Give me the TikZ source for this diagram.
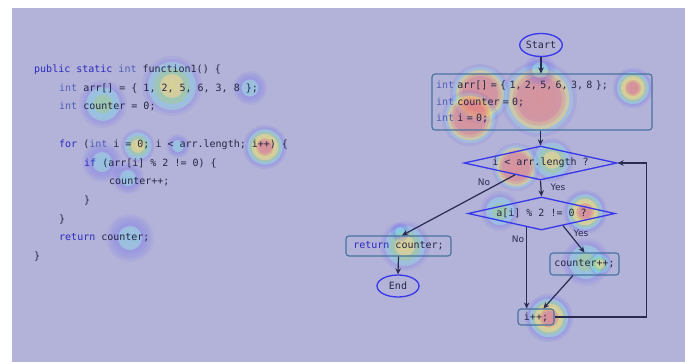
\documentclass[tikz,border=0pt]{standalone}
\usepackage{fontspec}
\newfontfamily\codefont{DejaVu Sans Mono}
\newfontfamily\labfont{DejaVu Sans}
\usetikzlibrary{shapes.geometric,arrows.meta,calc}

\definecolor{bgcol}{RGB}{179,178,216}
\definecolor{kwcol}{RGB}{42,42,190}
\definecolor{intcol}{RGB}{80,96,185}
\definecolor{idcol}{RGB}{38,38,68}
\definecolor{boxcol}{RGB}{70,115,160}
\definecolor{diacol}{RGB}{55,55,235}
\definecolor{arrcol}{RGB}{40,42,82}

\definecolor{hRed}{RGB}{240,125,115}
\definecolor{hOrg}{RGB}{250,170,90}
\definecolor{hYel}{RGB}{250,240,90}
\definecolor{hGrn}{RGB}{130,230,130}
\definecolor{hCyn}{RGB}{100,225,245}
\definecolor{hBlu}{RGB}{80,80,255}

% ring lists: index/colour/opacity, outside -> inside
\def\ringsRR{0/hBlu/0.10,1/hCyn/0.20,2/hYel/0.34,3/hOrg/0.44,4/hRed/0.50,5/hRed/0.52,6/hRed/0.54,7/hRed/0.55,8/hRed/0.56,9/hRed/0.57}
\def\ringsR{0/hBlu/0.10,1/hBlu/0.20,2/hCyn/0.28,3/hGrn/0.36,4/hYel/0.44,5/hYel/0.50,6/hOrg/0.54,7/hRed/0.56,8/hRed/0.58,9/hRed/0.60}
\def\ringsY{0/hBlu/0.08,1/hBlu/0.16,2/hCyn/0.24,3/hCyn/0.30,4/hGrn/0.36,5/hGrn/0.40,6/hYel/0.44,7/hYel/0.46,8/hYel/0.48,9/hYel/0.50}
\def\ringsG{0/hBlu/0.07,1/hBlu/0.14,2/hBlu/0.20,3/hCyn/0.26,4/hCyn/0.30,5/hCyn/0.34,6/hGrn/0.38,7/hGrn/0.40,8/hGrn/0.42,9/hGrn/0.44}
\def\ringsB{0/hBlu/0.06,1/hBlu/0.12,2/hBlu/0.17,3/hBlu/0.21,4/hBlu/0.24,5/hCyn/0.26,6/hCyn/0.28,7/hCyn/0.30,8/hCyn/0.31,9/hCyn/0.32}

\newcommand\ckw[1]{\textcolor{kwcol}{#1}}
\newcommand\cint[1]{\textcolor{intcol}{#1}}
\newcommand\heatblob[4]{%
  \foreach \i/\c/\o in #4 {%
    \pgfmathsetmacro\ra{#3*(1-\i/10)}%
    \pgfmathsetmacro\rb{#3*(1-(\i+1)/10)}%
    \fill[\c, fill opacity=\o, even odd rule] (#1,#2) circle[radius=\ra pt] (#1,#2) circle[radius=\rb pt];
  }}

\tikzset{
  code/.style={anchor=base west, inner sep=0pt, font=\codefont\fontsize{10}{12}\selectfont, text=idcol},
  fbox/.style={draw=boxcol, line width=1.1pt, rounded corners=3pt, inner sep=0pt,
    font=\codefont\fontsize{10}{12}\selectfont, text=idcol},
  fterm/.style={ellipse, draw=diacol, line width=1.3pt, inner sep=0pt,
    font=\codefont\fontsize{10}{12}\selectfont, text=idcol},
  fdec/.style={diamond, draw=diacol, line width=1.3pt, aspect=4.5, inner sep=0pt,
    font=\codefont\fontsize{10}{12}\selectfont, text=idcol},
  flow/.style={draw=arrcol, line width=1.2pt, -{Stealth[length=6pt,width=5.5pt]}},
  flab/.style={font=\labfont\fontsize{9}{10}\selectfont, text=arrcol, inner sep=0pt}
}

\begin{document}
\begin{tikzpicture}[x=1pt,y=-1pt]
\useasboundingbox (0,0) rectangle (685,362);
\fill[bgcol] (12,7.5) rectangle (685,362);

% heatmap blobs
\heatblob{172}{86}{30}{\ringsY}
\heatblob{103}{104}{24}{\ringsG}
\heatblob{250}{88}{17}{\ringsB}
\heatblob{138}{146}{17}{\ringsY}
\heatblob{178}{146}{12}{\ringsB}
\heatblob{265}{147}{22}{\ringsR}
\heatblob{102}{162}{20}{\ringsB}
\heatblob{128}{178}{16}{\ringsB}
\heatblob{130}{238}{24}{\ringsB}
\heatblob{539}{99}{38}{\ringsRR}
\heatblob{480}{94}{30}{\ringsRR}
\heatblob{470}{118}{28}{\ringsRR}
\heatblob{633}{88}{20}{\ringsR}
\heatblob{540}{70}{16}{\ringsB}
\heatblob{516}{167}{24}{\ringsRR}
\heatblob{552}{160}{22}{\ringsY}
\heatblob{500}{211}{20}{\ringsG}
\heatblob{585}{212}{22}{\ringsR}
\heatblob{405}{246}{25}{\ringsY}
\heatblob{586}{262}{24}{\ringsG}
\heatblob{600}{264}{12}{\ringsY}
\heatblob{549}{318}{24}{\ringsR}
\heatblob{400}{232}{10}{\ringsB}

% source code
\node[code] (c0) at (34,72.5) {\ckw{public static} \cint{int} function1() \{};
\node[code] (c1) at (59,91.2) {\cint{int} arr[] = \{ 1, 2, 5, 6, 3, 8 \};};
\node[code] (c2) at (59,109.9) {\cint{int} counter = 0;};
\node[code] (c4) at (59,147.3) {\ckw{for} (\cint{int} i = 0; i < arr.length; i++) \{};
\node[code] (c5) at (84,166) {\ckw{if} (arr[i] \% 2 != 0) \{};
\node[code] (c6) at (109,184.7) {counter++;};
\node[code] (c7) at (84,203.4) {\}};
\node[code] (c8) at (59,222.1) {\}};
\node[code] (c9) at (59,240.8) {\ckw{return} counter;};
\node[code] (c10) at (34,259.5) {\}};

% flowchart
\node[fterm, minimum width=40pt, minimum height=23pt] (start) at (541,45) {Start};
\node[fbox, text width=212pt, align=left, inner xsep=4pt, minimum height=56pt,
  font=\codefont\fontsize{10}{16.5}\selectfont] (init) at (542,102)
  {\cint{int} arr[] = \{ 1, 2, 5, 6, 3, 8 \};\\\cint{int} counter = 0;\\\cint{int} i = 0;};
\node[fdec, minimum width=153pt, minimum height=34pt] (d1) at (540.5,163) {i < arr.length ?};
\node[fdec, minimum width=147pt, minimum height=33pt] (d2) at (541.5,213.5) {a[i] \% 2 != 0 ?};
\node[fbox, minimum width=105pt, minimum height=20pt] (ret) at (398.5,246) {\ckw{return} counter;};
\node[fterm, minimum width=42pt, minimum height=22pt] (end) at (398,286) {End};
\node[fbox, minimum width=69pt, minimum height=22pt] (cnt) at (584.5,264) {counter++;};
\node[fbox, minimum width=36pt, minimum height=16pt] (ipp) at (536,317) {i++;};

\draw[flow] (start.south) -- (start.south |- init.north);
\draw[flow] (init.south -| d1.north) -- (d1.north);
\draw[flow] ($(d1.south)!0.33!(d1.west)$) -- ($(ret.north)+(3.5,0)$);
\draw[flow] (d1.south) -- (d2.north);
\draw[flow] ($(d2.south)!0.2!(d2.west)$) coordinate (nostart) -- (nostart |- ipp.north);
\draw[flow] ($(d2.south)!0.29!(d2.east)$) -- (cnt.north);
\draw[flow] ($(cnt.south)!0.33!(cnt.south west)$) -- ($(ipp.north)!0.4!(ipp.north east)$);
\draw[flow] (ret.south) -- (end.north);
\draw[flow] (ipp.east) -| ($(d1.east)+(29,0)$) coordinate (loop) -- (d1.east);

\node[flab] (no1) at (484,182) {No};
\node[flab] (yes1) at (558,187) {Yes};
\node[flab] (no2) at (518,239) {No};
\node[flab] (yes2) at (581,233) {Yes};
\end{tikzpicture}
\end{document}
